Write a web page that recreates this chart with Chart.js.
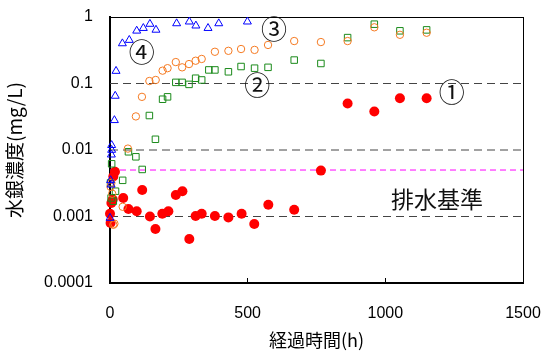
<!DOCTYPE html>
<html>
<head>
<meta charset="utf-8">
<script src="https://cdn.jsdelivr.net/npm/chart.js@4"></script>
<style>
  html, body { margin: 0; padding: 0; background: #fff; }
</style>
</head>
<body>
<canvas id="c" width="546" height="354"></canvas>
<script>
// データ (読み取り値)
const s1X = [0, 2, 5, 10, 12, 18, 48, 67, 97, 117, 145, 165, 190, 212, 239, 263, 288, 311, 333, 381, 430, 478, 524, 575, 669, 766, 863, 960, 1053, 1150];
const s1Y = [0.0011, 0.0008, 0.0016, 0.0018, 0.0040, 0.0047, 0.0019, 0.0013, 0.0012, 0.0025, 0.0010, 0.00065, 0.0011, 0.0012, 0.0021, 0.0024, 0.00046, 0.00102, 0.0011, 0.00102, 0.00097, 0.0011, 0.00077, 0.0015, 0.00126, 0.0049, 0.050, 0.038, 0.060, 0.060];

const s2X = [2, 5, 8, 12, 16, 46, 65, 94, 116, 143, 166, 191, 209, 239, 262, 287, 311, 333, 381, 430, 476, 525, 574, 669, 766, 863, 960, 1053, 1150];
const s2Y = [0.0028, 0.0032, 0.0022, 0.00075, 0.00078, 0.0014, 0.0105, 0.032, 0.063, 0.109, 0.113, 0.156, 0.17, 0.21, 0.175, 0.196, 0.22, 0.234, 0.30, 0.31, 0.33, 0.32, 0.38, 0.435, 0.42, 0.435, 0.70, 0.54, 0.58];

const s3X = [2, 4, 6, 12, 20, 46, 67, 94, 117, 143, 165, 191, 209, 239, 262, 287, 311, 333, 359, 381, 430, 476, 525, 574, 669, 766, 863, 960, 1053, 1150];
const s3Y = [0.0032, 0.0019, 0.0062, 0.0017, 0.0024, 0.0035, 0.0094, 0.0079, 0.0051, 0.033, 0.0145, 0.058, 0.063, 0.104, 0.104, 0.097, 0.12, 0.113, 0.16, 0.16, 0.15, 0.18, 0.17, 0.175, 0.225, 0.20, 0.49, 0.78, 0.62, 0.64];

const s4X = [0, 2, 4, 5, 6, 6, 16, 19, 22, 45, 70, 97, 121, 145, 167, 242, 288, 312, 356, 395, 499];
const s4Y = [0.00095, 0.0035, 0.0030, 0.0085, 0.010, 0.0118, 0.028, 0.065, 0.154, 0.40, 0.45, 0.62, 0.68, 0.785, 0.64, 0.80, 0.85, 0.74, 0.68, 0.80, 0.85];

const refLevels = [0.1, 0.01, 0.001];
const standardLevel = 0.005;

const xTicks = [0, 500, 1000, 1500];
const xTickLabels = ['0', '500', '1000', '1500'];
const yTicks = [0.0001, 0.001, 0.01, 0.1, 1];
const yTickLabels = ['0.0001', '0.001', '0.01', '0.1', '1'];

// 注記 (データ座標)
const notes = [
  { text: '①', x: 1241, y: 0.075 },
  { text: '②', x: 535, y: 0.095 },
  { text: '③', x: 596, y: 0.66 },
  { text: '④', x: 115, y: 0.294 },
  { text: '排水基準', x: 1188, y: 0.00182, big: true }
];

const pts = (xs, ys) => xs.map((x, i) => ({ x: x, y: ys[i] }));
const jp = '"Noto Sans CJK JP", sans-serif';
const latin = '"Liberation Sans", Arial, sans-serif';

const datasets = [
  { data: pts(s4X, s4Y), pointStyle: 'triangle', pointRadius: 4.6, borderColor: '#0000ff', backgroundColor: 'rgba(0,0,0,0)', borderWidth: 1 },
  { data: pts(s2X, s2Y), pointStyle: 'circle', pointRadius: 3.7, borderColor: '#f57a22', backgroundColor: 'rgba(0,0,0,0)', borderWidth: 1 },
  { data: pts(s3X, s3Y), pointStyle: 'rect', pointRadius: 4.6, borderColor: '#1a8a1a', backgroundColor: 'rgba(0,0,0,0)', borderWidth: 1 },
  { data: pts(s1X, s1Y), pointStyle: 'circle', pointRadius: 5, borderColor: '#ff0000', backgroundColor: '#ff0000', borderWidth: 0 }
];
datasets.forEach(d => { d.showLine = false; d.clip = false; });

// 破線 (基準線)
refLevels.forEach(v => {
  datasets.push({
    type: 'line', data: [{ x: 0, y: v }, { x: 1500, y: v }],
    borderColor: '#444', borderWidth: 1, borderDash: [8, 5], pointRadius: 0, order: 10
  });
});
datasets.push({
  type: 'line', data: [{ x: 0, y: standardLevel }, { x: 1500, y: standardLevel }],
  borderColor: '#ff00ff', borderWidth: 1, borderDash: [6, 4], pointRadius: 0, order: 10
});

// 注記を描くプラグイン
const notesPlugin = {
  id: 'notes',
  afterDatasetsDraw(chart) {
    const { ctx, scales: { x, y } } = chart;
    ctx.save();
    ctx.fillStyle = '#111';
    ctx.textAlign = 'center';
    ctx.textBaseline = 'middle';
    notes.forEach(n => {
      ctx.font = (n.big ? '23px ' : '26px ') + jp;
      ctx.fillText(n.text, x.getPixelForValue(n.x), y.getPixelForValue(n.y));
    });
    ctx.restore();
  }
};

// 上辺・右辺の枠線用の補助軸
const frameScale = pos => ({
  position: pos, type: 'linear', min: 0, max: 1,
  afterFit: s => {
    if (s.isHorizontal()) s.height = 0; else s.width = 0;
    s.paddingLeft = s.paddingRight = s.paddingTop = s.paddingBottom = 0;
  },
  grid: { display: true, drawOnChartArea: false, drawTicks: false },
  border: { display: true, color: '#000', width: 1 },
  ticks: { display: false }
});

new Chart(document.getElementById('c'), {
  type: 'scatter',
  data: { datasets: datasets },
  plugins: [notesPlugin],
  options: {
    responsive: false,
    animation: false,
    layout: { padding: { top: 17, right: 23, left: 0, bottom: 0 } },
    plugins: { legend: { display: false }, tooltip: { enabled: false } },
    scales: {
      x: {
        type: 'linear', min: 0, max: 1500,
        afterBuildTicks: s => { s.ticks = xTicks.map(v => ({ value: v })); },
        afterFit: s => { s.height = 71; s.paddingLeft = 0; s.paddingRight = 0; },
        grid: { display: true, drawOnChartArea: false, drawTicks: true, tickLength: -5, color: '#000' },
        border: { display: true, color: '#000', width: 2 },
        ticks: {
          padding: 26, color: '#000', font: { family: latin, size: 16 }, maxRotation: 0,
          callback: (v, i) => xTickLabels[i]
        },
        title: { display: true, text: '経過時間(h)', color: '#000', font: { family: jp, size: 18 }, padding: { bottom: 3 } }
      },
      y: {
        type: 'logarithmic', min: 0.0001, max: 1,
        afterBuildTicks: s => { s.ticks = yTicks.map(v => ({ value: v })); },
        afterFit: s => { s.width = 110; s.paddingTop = 0; s.paddingBottom = 0; },
        grid: { display: true, drawOnChartArea: false, drawTicks: false },
        border: { display: true, color: '#000', width: 2 },
        ticks: {
          padding: 17, color: '#000', font: { family: latin, size: 16 },
          callback: (v, i) => yTickLabels[i]
        },
        title: { display: true, text: '水銀濃度(mg/L)', color: '#000', font: { family: jp, size: 19 }, padding: { top: 3 } }
      },
      xTop: frameScale('top'),
      yRight: frameScale('right')
    }
  }
});
</script>
</body>
</html>
